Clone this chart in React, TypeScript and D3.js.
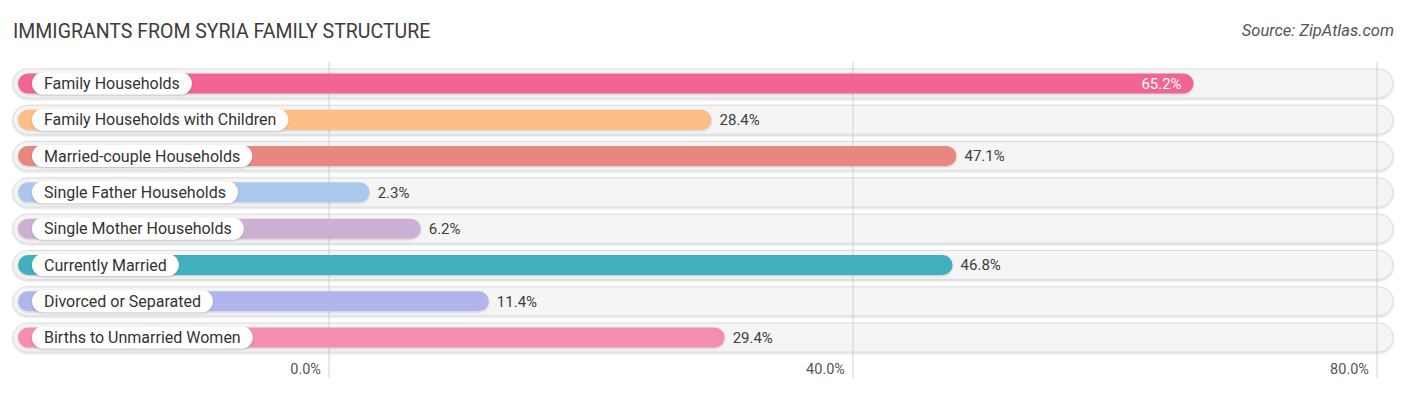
import React, { useEffect, useRef } from "react";
import * as d3 from "d3";

const categories = [
  "Family Households",
  "Family Households with Children",
  "Married-couple Households",
  "Single Father Households",
  "Single Mother Households",
  "Currently Married",
  "Divorced or Separated",
  "Births to Unmarried Women",
];
const values = [65.2, 28.4, 47.1, 2.3, 6.2, 46.8, 11.4, 29.4];
const palette = [
  "#f06591",
  "#fcbe85",
  "#e8877f",
  "#a9c8ec",
  "#cbb0d3",
  "#42b0be",
  "#b0b6ec",
  "#f48eb0",
];
const ticks = [0, 40, 80];

const W = 1406;
const H = 395;
const FONT = "Roboto, 'Open Sans', sans-serif";

const App = () => {
  const ref = useRef<SVGSVGElement | null>(null);

  useEffect(() => {
    const svg = d3.select(ref.current);
    svg.selectAll("*").remove();

    const x = d3.scaleLinear().domain([0, 80]).range([329, 1377]);
    const y = d3
      .scaleBand()
      .domain(categories)
      .range([65.3, 355.7])
      .paddingInner(0)
      .paddingOuter(0);
    const cy = (d: string) => (y(d) as number) + y.bandwidth() / 2;

    const defs = svg.append("defs");
    const sh = defs
      .append("filter")
      .attr("id", "sh")
      .attr("x", "-5%")
      .attr("y", "-40%")
      .attr("width", "110%")
      .attr("height", "180%");
    sh.append("feDropShadow")
      .attr("dx", 0)
      .attr("dy", 1)
      .attr("stdDeviation", 1.2)
      .attr("flood-color", "#000")
      .attr("flood-opacity", 0.18);

    // title + source
    svg
      .append("text")
      .attr("x", 13)
      .attr("y", 38)
      .attr("font-family", FONT)
      .attr("font-size", 19.5)
      .attr("fill", "#3c3c3c")
      .text("IMMIGRANTS FROM SYRIA FAMILY STRUCTURE");
    svg
      .append("text")
      .attr("x", 1394)
      .attr("y", 36)
      .attr("text-anchor", "end")
      .attr("font-family", FONT)
      .attr("font-style", "italic")
      .attr("font-size", 16.5)
      .attr("fill", "#555")
      .text("Source: ZipAtlas.com");

    // background pills
    const rows = svg
      .append("g")
      .selectAll("g")
      .data(categories)
      .join("g");

    rows
      .append("rect")
      .attr("x", 13)
      .attr("y", (d) => cy(d) - 14.5)
      .attr("width", 1393 - 13)
      .attr("height", 29)
      .attr("rx", 14.5)
      .attr("fill", "#f5f5f5")
      .attr("stroke", "#dcdcdc")
      .attr("stroke-width", 1)
      .attr("filter", "url(#sh)");

    // gridlines
    svg
      .append("g")
      .selectAll("line")
      .data(ticks)
      .join("line")
      .attr("x1", (d) => x(d))
      .attr("x2", (d) => x(d))
      .attr("y1", 62)
      .attr("y2", 378)
      .attr("stroke", "#d0d0d0")
      .attr("stroke-width", 1);

    // bars
    const bars = svg
      .append("g")
      .selectAll("g")
      .data(categories)
      .join("g");

    bars
      .append("rect")
      .attr("x", 18)
      .attr("y", (d) => cy(d) - 10)
      .attr("width", (d, i) => x(values[i]) + 10.5 - 18)
      .attr("height", 20)
      .attr("rx", 10)
      .attr("fill", (d, i) => palette[i])
      .attr("filter", "url(#sh)");

    // label pills
    bars.each(function (d) {
      const g = d3.select(this);
      const t = g
        .append("text")
        .attr("x", 44)
        .attr("y", cy(d))
        .attr("dy", "0.35em")
        .attr("font-family", FONT)
        .attr("font-size", 16)
        .attr("fill", "#333")
        .text(d);
      const w = (t.node() as SVGTextElement).getComputedTextLength();
      g.insert("rect", "text")
        .attr("x", 32)
        .attr("y", cy(d) - 11)
        .attr("width", w + 24)
        .attr("height", 22)
        .attr("rx", 11)
        .attr("fill", "#fff")
        .attr("filter", "url(#sh)");
    });

    // value labels
    bars
      .append("text")
      .attr("x", (d, i) =>
        values[i] > 60 ? x(values[i]) + 10.5 - 12 : x(values[i]) + 10.5 + 8
      )
      .attr("y", (d) => cy(d))
      .attr("dy", "0.35em")
      .attr("text-anchor", (d, i) => (values[i] > 60 ? "end" : "start"))
      .attr("font-family", FONT)
      .attr("font-size", 15)
      .attr("fill", (d, i) => (values[i] > 60 ? "#fff" : "#404040"))
      .text((d, i) => `${values[i].toFixed(1)}%`);

    // axis labels
    svg
      .append("g")
      .selectAll("text")
      .data(ticks)
      .join("text")
      .attr("x", (d) => x(d) - 8)
      .attr("y", 369)
      .attr("dy", "0.35em")
      .attr("text-anchor", "end")
      .attr("font-family", FONT)
      .attr("font-size", 14.5)
      .attr("fill", "#555")
      .text((d) => `${d.toFixed(1)}%`);
  }, []);

  return (
    <svg
      ref={ref}
      width={W}
      height={H}
      style={{ position: "absolute", left: 0, top: 0, background: "#fff" }}
    />
  );
};

export default App;
